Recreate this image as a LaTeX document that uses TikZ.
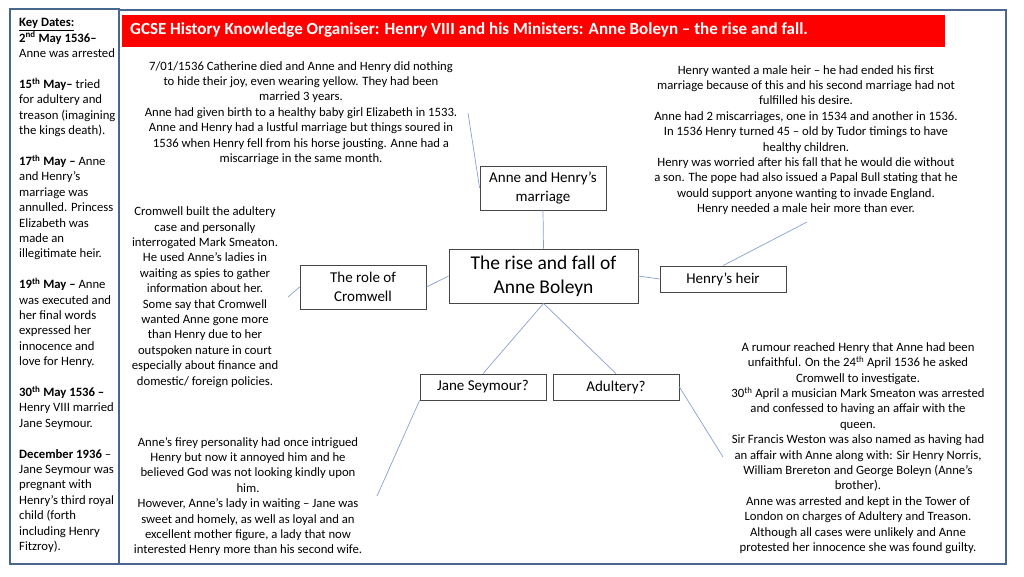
\documentclass[tikz,border=0pt]{standalone}
\usepackage{fontspec}
\setmainfont{Carlito}
\definecolor{framec}{RGB}{72,102,142}
\definecolor{boxc}{RGB}{70,70,70}
\definecolor{linkc}{RGB}{135,160,210}
\definecolor{titlered}{RGB}{255,0,0}
\begin{document}
\begin{tikzpicture}[x=1pt, y=-1pt,
    frame/.style={draw=framec, line width=1.8pt},
    box/.style={draw=boxc, line width=0.8pt, minimum width=126pt, align=center, inner sep=0pt, font=\fontsize{15}{18.5}\selectfont},
    link/.style={draw=linkc, line width=0.7pt},
    note/.style={align=center, inner sep=0pt, font=\fontsize{12.7}{15.4}\selectfont}]
        \useasboundingbox (0,0) rectangle (1024,576);
        \draw[frame] (119,10) rectangle (1006,564);
        \draw[frame] (10,9) rectangle (119,564);
        \fill[titlered] (122,15) rectangle (945,47);
        \node[anchor=west, inner sep=0pt, text=white, font=\fontsize{17}{20}\selectfont\bfseries] (title) at (130,30)
            {GCSE History Knowledge Organiser: Henry VIII and his Ministers: Anne Boleyn – the rise and fall.};
        \node[anchor=north west, align=left, inner sep=0pt, font=\fontsize{12.7}{15.4}\selectfont] (dates) at (19,18.5)
            {\textbf{\underline{Key Dates:}}\\
             \textbf{2\textsuperscript{nd} May 1536–}\\
             Anne was arrested\\[15.4pt]
             \textbf{15\textsuperscript{th} May–} tried\\
             for adultery and\\
             treason (imagining\\
             the kings death).\\[15.4pt]
             \textbf{17\textsuperscript{th} May –} Anne\\
             and Henry’s\\
             marriage was\\
             annulled. Princess\\
             Elizabeth was\\
             made an\\
             illegitimate heir.\\[15.4pt]
             \textbf{19\textsuperscript{th} May –} Anne\\
             was executed and\\
             her final words\\
             expressed her\\
             innocence and\\
             love for Henry.\\[15.4pt]
             \textbf{30\textsuperscript{th} May 1536 –}\\
             Henry VIII married\\
             Jane Seymour.\\[15.4pt]
             \textbf{December 1936} –\\
             Jane Seymour was\\
             pregnant with\\
             Henry’s third royal\\
             child (forth\\
             including Henry\\
             Fitzroy).};
        \node[box, minimum width=189pt, minimum height=54pt, font=\fontsize{19.5}{24}\selectfont] (centre) at (543.5,276) {The rise and fall of\\Anne Boleyn};
        \node[box, minimum height=44pt] (marriage) at (543,188) {Anne and Henry’s\\marriage};
        \node[box, minimum height=44pt] (cromwell) at (363,287) {The role of\\Cromwell};
        \node[box, minimum height=26pt] (heir) at (723,279) {Henry’s heir};
        \node[box, minimum height=26pt] (jane) at (483,387) {Jane Seymour?};
        \node[box, minimum height=26pt] (adultery) at (616,387) {Adultery?};
        \node[note] (marriagetext) at (301,113)
            {7/01/1536 Catherine died and Anne and Henry did nothing\\
             to hide their joy, even wearing yellow. They had been\\
             married 3 years.\\
             Anne had given birth to a healthy baby girl Elizabeth in 1533.\\
             Anne and Henry had a lustful marriage but things soured in\\
             1536 when Henry fell from his horse jousting. Anne had a\\
             miscarriage in the same month.};
        \node[note] (heirtext) at (806,140)
            {Henry wanted a male heir – he had ended his first\\
             marriage because of this and his second marriage had not\\
             fulfilled his desire.\\
             Anne had 2 miscarriages, one in 1534 and another in 1536.\\
             In 1536 Henry turned 45 – old by Tudor timings to have\\
             healthy children.\\
             Henry was worried after his fall that he would die without\\
             a son. The pope had also issued a Papal Bull stating that he\\
             would support anyone wanting to invade England.\\
             Henry needed a male heir more than ever.};
        \node[note] (cromwelltext) at (205,297)
            {Cromwell built the adultery\\
             case and personally\\
             interrogated Mark Smeaton.\\
             He used Anne’s ladies in\\
             waiting as spies to gather\\
             information about her.\\
             Some say that Cromwell\\
             wanted Anne gone more\\
             than Henry due to her\\
             outspoken nature in court\\
             especially about finance and\\
             domestic/ foreign policies.};
        \node[note] (janetext) at (248,496.5)
            {Anne’s firey personality had once intrigued\\
             Henry but now it annoyed him and he\\
             believed God was not looking kindly upon\\
             him.\\
             However, Anne’s lady in waiting – Jane was\\
             sweet and homely, as well as loyal and an\\
             excellent mother figure, a lady that now\\
             interested Henry more than his second wife.};
        \node[note] (adulterytext) at (858,448)
            {A rumour reached Henry that Anne had been\\
             unfaithful. On the 24\textsuperscript{th} April 1536 he asked\\
             Cromwell to investigate.\\
             30\textsuperscript{th} April a musician Mark Smeaton was arrested\\
             and confessed to having an affair with the\\
             queen.\\
             Sir Francis Weston was also named as having had\\
             an affair with Anne along with: Sir Henry Norris,\\
             William Brereton and George Boleyn (Anne’s\\
             brother).\\
             Anne was arrested and kept in the Tower of\\
             London on charges of Adultery and Treason.\\
             Although all cases were unlikely and Anne\\
             protested her innocence she was found guilty.};
        \coordinate (marriagetip) at (468,113);
        \coordinate (cromwelltip) at (288,297);
        \coordinate (heirtip) at (807,222);
        \coordinate (adulterytip) at (723,457);
        \coordinate (janetip) at (377,496);
        \draw[link] (marriage.south) -- (centre.north);
        \draw[link] (centre.west) -- (cromwell.east);
        \draw[link] (centre.east) -- (heir.west);
        \draw[link] (centre.south) -- (jane.north);
        \draw[link] (centre.south) -- (adultery.north);
        \draw[link] (marriage.west) -- (marriagetip);
        \draw[link] (cromwell.west) -- (cromwelltip);
        \draw[link] (heir.north) -- (heirtip);
        \draw[link] (adultery.east) -- (adulterytip);
        \draw[link] (jane.south west) -- (janetip);
    \end{tikzpicture}
\end{document}
